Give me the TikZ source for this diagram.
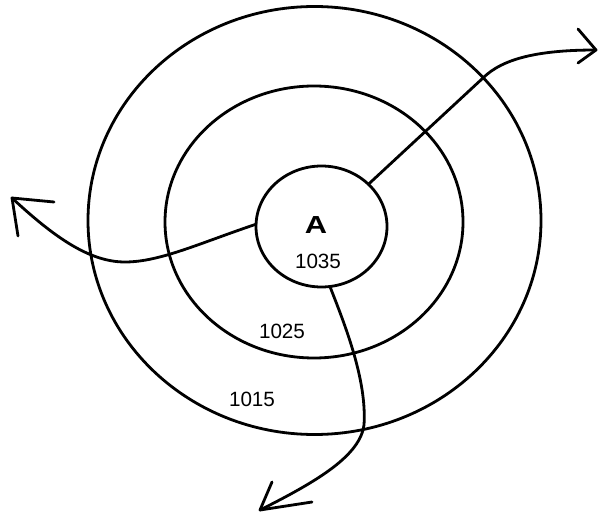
\documentclass[tikz,border=0pt]{standalone}
\usepackage{fontspec}
\setmainfont{Liberation Sans}
\usetikzlibrary{shapes.geometric}
\begin{document}
\begin{tikzpicture}[x=0.75pt,y=-0.75pt,
  ring/.style={draw,ellipse,inner sep=0pt,outer sep=0pt,line width=2.1pt},
  flow/.style={line width=2.1pt,line cap=round,line join=round},
  pres/.style={font=\fontsize{15.5}{18}\selectfont,inner sep=0pt},
  centre/.style={font=\fontsize{18.5}{22}\selectfont\bfseries,inner sep=0pt}]
\fill[white] (0,0) rectangle (598,516);
\useasboundingbox (0,0) rectangle (598,516);
\node[ring,minimum width=339.75pt,minimum height=321pt] (outer) at (314.5,220.5) {};
\node[ring,minimum width=223.5pt,minimum height=204pt] (middle) at (314,222) {};
\node[ring,minimum width=98.25pt,minimum height=90.75pt] (inner) at (321.5,226.5) {};
\node[centre] (A) at (316,225) {\scalebox{1.25}[1]{A}};
\node[pres] (p1035) at (318,261) {1035};
\node[pres] (p1025) at (282,331) {1025};
\node[pres] (p1015) at (252,399) {1015};
\coordinate (ne) at (596,50);
\coordinate (w) at (12,198);
\coordinate (s) at (260,510);
% north-east flow
\draw[flow] (inner.42) -- (483,78) .. controls (503,58) and (540,50) .. (ne);
\draw[flow] (578,29) -- (ne) -- (578,63);
% west flow
\draw[flow] (inner.178) .. controls (200,243) and (160,262) .. (125,262)
  .. controls (90,262) and (55,238) .. (w);
\draw[flow] (54,202) -- (w) -- (18,236);
% south flow
\draw[flow] (inner.-82) .. controls (345,325) and (367,380) .. (364,425)
  .. controls (360,455) and (320,480) .. (s);
\draw[flow] (272,482) -- (s) -- (312,502);
\end{tikzpicture}
\end{document}
